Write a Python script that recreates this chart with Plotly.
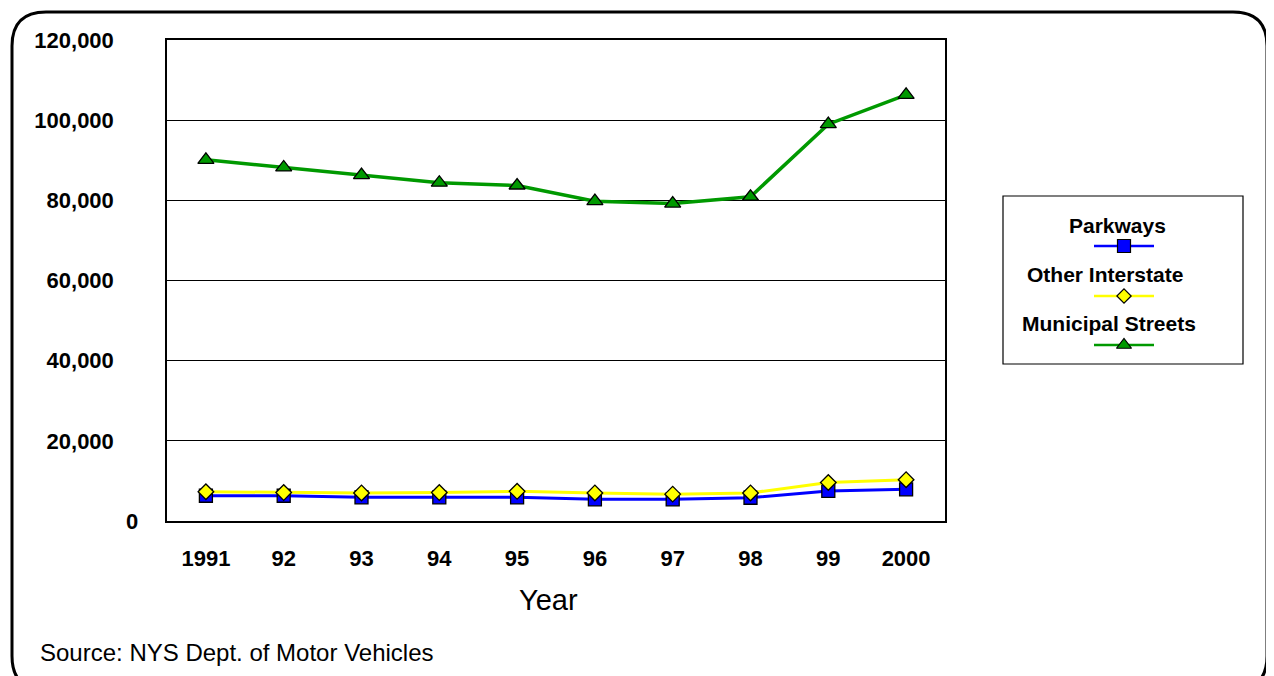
import plotly.graph_objects as go

years = ["1991", "92", "93", "94", "95", "96", "97", "98", "99", "2000"]
parkways = [6300, 6300, 5900, 5900, 5900, 5400, 5400, 5800, 7500, 7900]
other_interstate = [7300, 7100, 7000, 7100, 7400, 7000, 6700, 7000, 9600, 10300]
municipal_streets = [90100, 88200, 86300, 84400, 83700, 79800, 79200, 80900, 99000, 106300]
y_ticks = [0, 20000, 40000, 60000, 80000, 100000, 120000]
y_tick_text = ["", "20,000", "40,000", "60,000", "80,000", "100,000", "120,000"]

OFF = 8  # page body margin
W, H = 1274 - OFF, 676 - OFF
FONT = "Liberation Sans, Arial, sans-serif"


def px(x):
    return (x - OFF) / W


def py(y):
    return 1 - (y - OFF) / H


fig = go.Figure()

series = [
    ("Municipal Streets", municipal_streets, "#009900", "triangle-up", 14, 3.5),
    ("Other Interstate", other_interstate, "#FFFF00", "diamond", 12, 3),
    ("Parkways", parkways, "#0000FF", "square", 13, 3),
]
for name, vals, col, sym, sz, lw in [series[0], series[2], series[1]]:
    fig.add_trace(go.Scatter(
        x=years, y=vals, name=name, mode="lines+markers",
        line=dict(color=col, width=lw),
        marker=dict(symbol=sym, size=sz, color=col, line=dict(color="#000000", width=1.3)),
        xaxis="x", yaxis="y", showlegend=False,
    ))

# legend samples (drawn on a pixel-space helper axis)
legend_items = [("Parkways", "#0000FF", "square", 13, 246),
                ("Other Interstate", "#FFFF00", "diamond", 11, 296),
                ("Municipal Streets", "#009900", "triangle-up", 13, 345)]
for name, col, sym, sz, ly in legend_items:
    fig.add_trace(go.Scatter(
        x=[1094, 1154], y=[ly, ly], mode="lines", line=dict(color=col, width=2.5),
        xaxis="x2", yaxis="y2", showlegend=False, hoverinfo="skip"))
    fig.add_trace(go.Scatter(
        x=[1124], y=[ly], mode="markers",
        marker=dict(symbol=sym, size=sz, color=col, line=dict(color="#000000", width=1.2)),
        xaxis="x2", yaxis="y2", showlegend=False, hoverinfo="skip"))

annotations = [
    dict(text="<b>Parkways</b>", x=px(1117), y=py(225)),
    dict(text="<b>Other Interstate</b>", x=px(1105), y=py(274)),
    dict(text="<b>Municipal Streets</b>", x=px(1109), y=py(323)),
]
for a in annotations:
    a.update(xref="paper", yref="paper", showarrow=False, xanchor="center", yanchor="middle",
             font=dict(family=FONT, size=21, color="#000000"))

annotations.append(dict(text="Year", x=px(548), y=py(600), xref="paper", yref="paper",
                        showarrow=False, xanchor="center", yanchor="middle",
                        font=dict(family=FONT, size=29, color="#000000")))
annotations.append(dict(text="Source: NYS Dept. of Motor Vehicles", x=px(38), y=py(652),
                        xref="paper", yref="paper", showarrow=False, xanchor="left",
                        yanchor="middle", font=dict(family=FONT, size=24, color="#000000")))
# the zero label sits further right than the other y labels in the original
annotations.append(dict(text="<b>0</b>", x=px(140), y=0, xref="paper", yref="y",
                        showarrow=False, xanchor="right", yanchor="middle",
                        font=dict(family=FONT, size=22, color="#000000")))

# rounded outer frame
x0, x1, y0, y1 = px(12), px(1267), py(12), py(690)
rx, ry = 34 / W, 34 / H
path = (f"M {x0+rx},{y0} L {x1-rx},{y0} Q {x1},{y0} {x1},{y0-ry} "
        f"L {x1},{y1+ry} Q {x1},{y1} {x1-rx},{y1} "
        f"L {x0+rx},{y1} Q {x0},{y1} {x0},{y1+ry} "
        f"L {x0},{y0-ry} Q {x0},{y0} {x0+rx},{y0} Z")

shapes = [
    dict(type="path", path=path, xref="paper", yref="paper",
         line=dict(color="#000000", width=3), layer="below"),
    dict(type="rect", x0=px(1003), x1=px(1243), y0=py(196), y1=py(364),
         xref="paper", yref="paper", line=dict(color="#000000", width=1.2),
         fillcolor="rgba(0,0,0,0)", layer="below"),
]

fig.update_layout(
    width=W, height=H,
    margin=dict(l=0, r=0, t=0, b=0),
    paper_bgcolor="#FFFFFF", plot_bgcolor="rgba(0,0,0,0)",
    font=dict(family=FONT, color="#000000"),
    xaxis=dict(domain=[px(167), px(945)], type="category", range=[-0.5, 9.5],
               showgrid=False, showline=True, mirror=True, linecolor="#000000", linewidth=1.5,
               ticks="", ticklabelstandoff=17, automargin=False, zeroline=False,
               tickfont=dict(family=FONT, size=22, color="#000000", weight="bold")),
    yaxis=dict(domain=[py(521), py(40)], range=[0, 120000], tickvals=y_ticks,
               ticktext=y_tick_text, showgrid=True, gridcolor="#000000", gridwidth=1,
               showline=True, mirror=True, linecolor="#000000", linewidth=1.5,
               ticks="", ticklabelstandoff=47, automargin=False, zeroline=False,
               tickfont=dict(family=FONT, size=22, color="#000000", weight="bold")),
    xaxis2=dict(domain=[0, 1], range=[OFF, OFF + W], visible=False, anchor="y2", fixedrange=True),
    yaxis2=dict(domain=[0, 1], range=[OFF + H, OFF], visible=False, anchor="x2", fixedrange=True),
    annotations=annotations,
    shapes=shapes,
    showlegend=False,
)

fig.write_html("out.html")
